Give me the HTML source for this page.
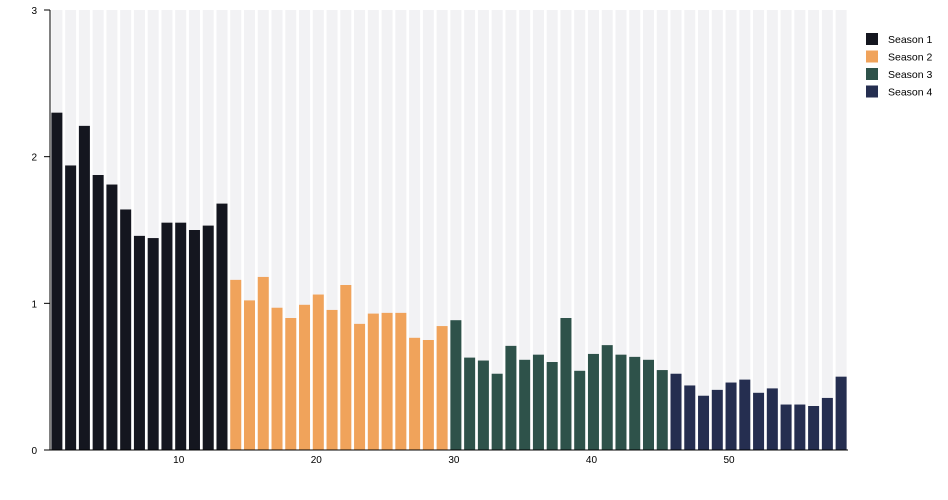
<!DOCTYPE html>
<html><head><meta charset="utf-8"><style>
html,body{margin:0;padding:0;background:#fff;}
svg{display:block;font-family:"Liberation Sans",sans-serif;}
</style></head><body>
<svg id="c" width="948" height="500" xmlns="http://www.w3.org/2000/svg"></svg>
<script>
var v=[2.30,1.94,2.21,1.875,1.81,1.64,1.46,1.445,1.55,1.55,1.50,1.53,1.68,
1.16,1.02,1.18,0.97,0.90,0.99,1.06,0.955,1.125,0.86,0.93,0.935,0.935,0.765,0.75,0.845,
0.885,0.63,0.61,0.52,0.71,0.615,0.65,0.60,0.90,0.54,0.655,0.715,0.65,0.635,0.615,0.545,
0.52,0.44,0.37,0.41,0.46,0.48,0.39,0.42,0.31,0.31,0.30,0.355,0.50];
var cols=["#14161f","#f0a35b","#2e524a","#252e50"];
function col(i){return i<13?cols[0]:i<29?cols[1]:i<45?cols[2]:cols[3];}
var x0=50,x1=848,y0=450,y1=10,sc=(y0-y1)/3,w=(x1-x0)/58,bw=w*0.8;
var s="";
for(var i=0;i<58;i++){var x=x0+i*w+(w-bw)/2;
s+='<rect x="'+x+'" y="'+y1+'" width="'+bw+'" height="'+(y0-y1)+'" fill="#f2f2f4"/>';
var h=v[i]*sc;s+='<rect x="'+x+'" y="'+(y0-h)+'" width="'+bw+'" height="'+h+'" fill="'+col(i)+'"/>';}
s+='<line x1="'+x0+'" y1="'+y1+'" x2="'+x0+'" y2="'+y0+'" stroke="#000" stroke-width="1"/>';
s+='<line x1="'+x0+'" y1="'+y0+'" x2="'+x1+'" y2="'+y0+'" stroke="#000" stroke-width="1"/>';
for(var k=0;k<=3;k++){var y=y0-k*sc;s+='<line x1="44" y1="'+y+'" x2="50" y2="'+y+'" stroke="#000"/><text x="37" y="'+(y+4)+'" font-size="10" text-anchor="end">'+k+'</text>';}
for(var t=10;t<=50;t+=10){var x=x0+(t-0.5)*w-2;s+='<text x="'+x+'" y="463" font-size="10" text-anchor="middle">'+t+'</text>';}
for(var j=0;j<4;j++){var y=33+j*17.5;s+='<rect x="866" y="'+y+'" width="12" height="12" fill="'+cols[j]+'"/><text x="888" y="'+(y+10)+'" font-size="10.5">Season '+(j+1)+'</text>';}
document.getElementById("c").innerHTML=s;
</script>
</body></html>
